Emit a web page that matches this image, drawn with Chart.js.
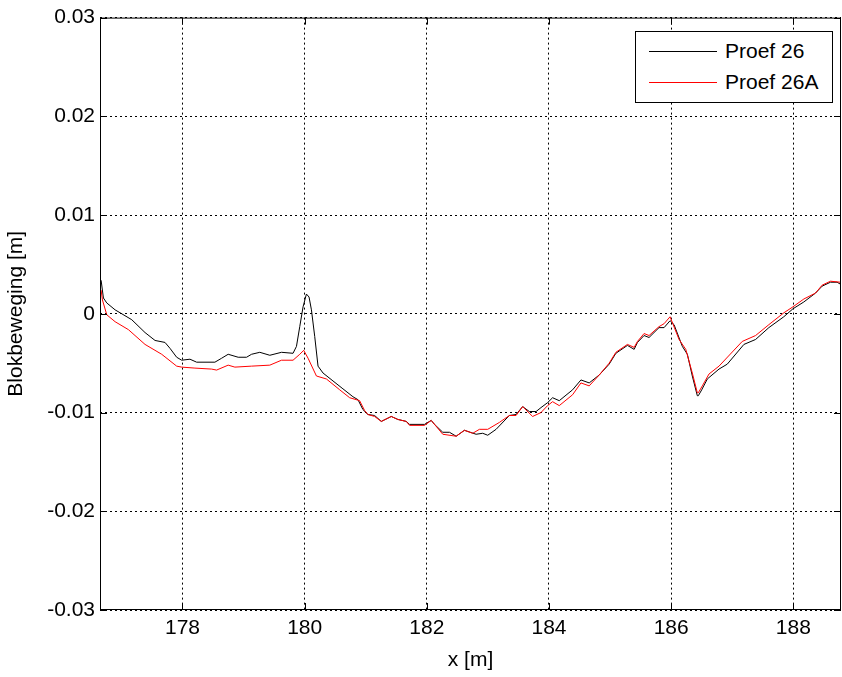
<!DOCTYPE html>
<html>
<head>
<meta charset="utf-8">
<script src="https://cdn.jsdelivr.net/npm/chart.js@4.4.1/dist/chart.umd.min.js"></script>
<style>
  body { margin: 0; background: #fff; }
  #wrap { position: relative; width: 842px; height: 677px; }
  #legend {
    position: absolute; left: 635px; top: 31px; width: 196px; height: 70px;
    border: 1px solid #000; background: #fff;
    font-family: 'Liberation Sans', Arial, Helvetica, sans-serif; font-size: 21px; color: #000;
  }
  .row { position: absolute; left: 0; height: 22px; }
  .row .ln { position: absolute; left: 13px; width: 68px; top: 11px; height: 0; }
  .row .tx { position: absolute; left: 89px; top: 0; line-height: 22px; white-space: nowrap; }
</style>
</head>
<body>
<div id="wrap">
  <canvas id="c" width="842" height="677"></canvas>
  <div id="legend">
    <div class="row" style="top:8px"><div class="ln" style="border-top:1px solid #000"></div><div class="tx">Proef 26</div></div>
    <div class="row" style="top:39px"><div class="ln" style="border-top:1px solid #ff0000"></div><div class="tx">Proef 26A</div></div>
  </div>
</div>
<script>
// Proef 26 (zwart)
const x26 = [176.668, 176.706, 176.761, 176.897, 177.007, 177.170, 177.387, 177.551, 177.714, 177.796,
  177.905, 177.987, 178.123, 178.232, 178.531, 178.641, 178.748, 178.912, 179.049, 179.131,
  179.266, 179.430, 179.621, 179.810, 179.866, 179.920, 179.974, 180.029, 180.072, 180.111,
  180.165, 180.219, 180.301, 180.464, 180.627, 180.791, 180.873, 180.954, 181.036, 181.145,
  181.255, 181.418, 181.526, 181.663, 181.717, 181.962, 182.072, 182.126, 182.261, 182.371,
  182.480, 182.616, 182.807, 182.915, 182.997, 183.134, 183.351, 183.461, 183.569, 183.678,
  183.788, 183.869, 183.977, 184.059, 184.168, 184.386, 184.523, 184.658, 184.822, 184.985,
  185.095, 185.284, 185.394, 185.448, 185.556, 185.638, 185.801, 185.884, 185.982, 186.047,
  186.183, 186.265, 186.346, 186.428, 186.444, 186.500, 186.592, 186.783, 186.918, 187.191,
  187.382, 187.599, 187.844, 187.992, 188.172, 188.363, 188.471, 188.608, 188.716, 188.771];
const y26 = [0.0034, 0.0016, 0.0011, 0.0004, 0.0000, -0.0006, -0.0019, -0.0027, -0.0029, -0.0035,
  -0.0044, -0.0047, -0.0046, -0.0049, -0.0049, -0.0045, -0.0041, -0.0044, -0.0044, -0.0041,
  -0.0039, -0.0042, -0.0039, -0.0040, -0.0033, -0.0013, 0.0007, 0.0020, 0.0017, 0.0004,
  -0.0023, -0.0053, -0.0060, -0.0068, -0.0076, -0.0084, -0.0087, -0.0097, -0.0102, -0.0103,
  -0.0109, -0.0104, -0.0107, -0.0109, -0.0112, -0.0112, -0.0108, -0.0112, -0.0120, -0.0120,
  -0.0124, -0.0118, -0.0122, -0.0121, -0.0123, -0.0117, -0.0103, -0.0102, -0.0094, -0.0099,
  -0.0099, -0.0095, -0.0090, -0.0085, -0.0088, -0.0077, -0.0067, -0.0070, -0.0062, -0.0051,
  -0.0040, -0.0032, -0.0036, -0.0029, -0.0022, -0.0024, -0.0014, -0.0014, -0.0007, -0.0011,
  -0.0033, -0.0041, -0.0063, -0.0083, -0.0083, -0.0077, -0.0066, -0.0056, -0.0051, -0.0031,
  -0.0026, -0.0014, -0.0003, 0.0005, 0.0012, 0.0021, 0.0028, 0.0032, 0.0032, 0.0030];

// Proef 26A (rood)
const x26A = [176.668, 176.690, 176.761, 176.897, 177.114, 177.387, 177.660, 177.905, 177.987, 178.204,
  178.477, 178.559, 178.748, 178.858, 179.131, 179.430, 179.621, 179.810, 179.920, 179.985,
  180.056, 180.193, 180.356, 180.574, 180.737, 180.900, 180.982, 181.036, 181.145, 181.255,
  181.418, 181.526, 181.663, 181.717, 181.962, 182.072, 182.261, 182.480, 182.616, 182.752,
  182.861, 182.997, 183.188, 183.351, 183.461, 183.569, 183.732, 183.869, 183.977, 184.059,
  184.168, 184.386, 184.523, 184.658, 184.822, 184.985, 185.095, 185.284, 185.394, 185.448,
  185.556, 185.638, 185.801, 185.884, 185.982, 186.129, 186.239, 186.346, 186.428, 186.444,
  186.510, 186.619, 186.783, 187.163, 187.382, 187.599, 187.844, 187.992, 188.172, 188.363,
  188.471, 188.608, 188.771];
const y26A = [0.0024, 0.0014, -0.0001, -0.0008, -0.0016, -0.0031, -0.0041, -0.0053, -0.0054, -0.0055,
  -0.0056, -0.0057, -0.0052, -0.0054, -0.0053, -0.0052, -0.0047, -0.0047, -0.0041, -0.0037,
  -0.0045, -0.0063, -0.0066, -0.0077, -0.0085, -0.0088, -0.0098, -0.0102, -0.0104, -0.0109,
  -0.0104, -0.0107, -0.0109, -0.0113, -0.0113, -0.0108, -0.0122, -0.0124, -0.0118, -0.0121,
  -0.0117, -0.0117, -0.0110, -0.0103, -0.0103, -0.0094, -0.0104, -0.0100, -0.0093, -0.0089,
  -0.0093, -0.0082, -0.0070, -0.0073, -0.0062, -0.0050, -0.0039, -0.0031, -0.0034, -0.0028,
  -0.0020, -0.0022, -0.0013, -0.0010, -0.0003, -0.0026, -0.0036, -0.0060, -0.0080, -0.0080,
  -0.0073, -0.0061, -0.0053, -0.0028, -0.0022, -0.0011, 0.0001, 0.0007, 0.0015, 0.0021,
  0.0029, 0.0033, 0.0032];

const xTicks = [178, 180, 182, 184, 186, 188];
const yTicks = [-0.03, -0.02, -0.01, 0, 0.01, 0.02, 0.03];

const FONT = "'Liberation Sans', Arial, Helvetica, sans-serif";

// kader rond de assen met tickjes naar binnen (zoals in MATLAB)
const framePlugin = {
  id: 'frame',
  afterDraw(chart) {
    const { ctx, chartArea: a, scales } = chart;
    ctx.save();
    ctx.strokeStyle = '#000';
    ctx.lineWidth = 1;
    ctx.strokeRect(a.left + 0.5, a.top + 0.5, a.right - a.left - 1, a.bottom - a.top - 1);
    ctx.beginPath();
    xTicks.forEach(v => {
      const px = Math.round(scales.x.getPixelForValue(v)) + 0.5;
      ctx.moveTo(px, a.bottom); ctx.lineTo(px, a.bottom - 7);
      ctx.moveTo(px, a.top); ctx.lineTo(px, a.top + 7);
    });
    yTicks.forEach(v => {
      const py = Math.round(scales.y.getPixelForValue(v)) + 0.5;
      ctx.moveTo(a.left, py); ctx.lineTo(a.left + 7, py);
      ctx.moveTo(a.right, py); ctx.lineTo(a.right - 7, py);
    });
    ctx.stroke();
    ctx.restore();
  }
};

const grid = {
  color: '#000',
  lineWidth: 1,
  drawTicks: false
};

new Chart(document.getElementById('c'), {
  type: 'line',
  data: {
    datasets: [{
      label: 'Proef 26A',
      data: x26A.map((x, i) => ({ x: x, y: y26A[i] })),
      borderColor: '#ff0000',
      borderWidth: 1,
      pointRadius: 0,
      tension: 0,
      order: 0
    }, {
      label: 'Proef 26',
      data: x26.map((x, i) => ({ x: x, y: y26[i] })),
      borderColor: '#000000',
      borderWidth: 1,
      pointRadius: 0,
      tension: 0,
      order: 1
    }]
  },
  options: {
    responsive: false,
    animation: false,
    layout: { padding: { top: 16, right: 1, left: 0, bottom: 0 } },
    plugins: {
      legend: { display: false },
      tooltip: { enabled: false }
    },
    scales: {
      x: {
        type: 'linear',
        min: 176.65,
        max: 188.78,
        afterBuildTicks: s => { s.ticks = xTicks.map(v => ({ value: v })); },
        afterFit: s => { s.height = 67; },
        grid: grid,
        border: { display: false, dash: [2, 3] },
        ticks: { color: '#000', font: { family: FONT, size: 21 }, padding: 6, maxRotation: 0 },
        title: { display: true, text: 'x [m]', color: '#000', font: { family: FONT, size: 21 }, padding: { top: 0 } }
      },
      y: {
        min: -0.03,
        max: 0.03,
        afterBuildTicks: s => { s.ticks = yTicks.map(v => ({ value: v })); },
        afterFit: s => { s.width = 100; },
        grid: grid,
        border: { display: false, dash: [2, 3] },
        ticks: {
          color: '#000', font: { family: FONT, size: 21 }, padding: 5,
          callback: v => (Math.abs(v) < 1e-9 ? '0' : v.toFixed(2))
        },
        title: { display: true, text: 'Blokbeweging [m]', color: '#000', font: { family: FONT, size: 21 }, padding: { bottom: 2 } }
      }
    }
  },
  plugins: [framePlugin]
});
</script>
</body>
</html>
